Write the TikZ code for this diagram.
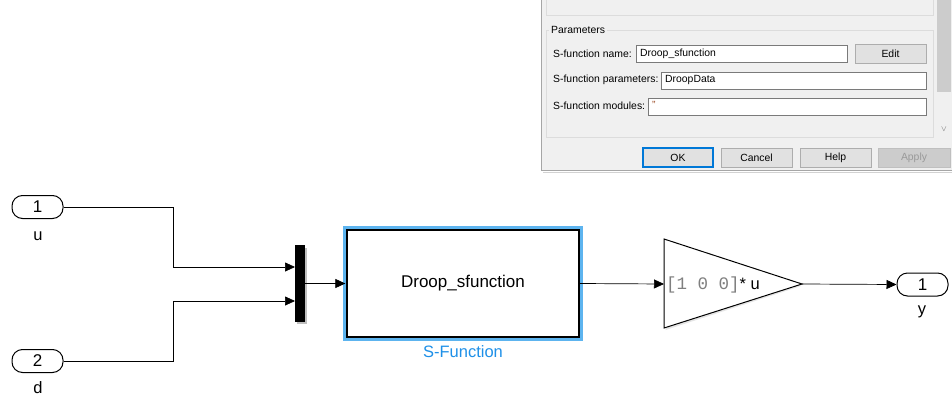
\documentclass[tikz,border=0pt]{standalone}
\usepackage{fontspec}
\setmainfont{Liberation Sans}
\newfontfamily\monofont{Liberation Mono}
\usetikzlibrary{arrows.meta,calc}
\definecolor{dlgbg}{HTML}{F0F0F0}
\definecolor{grpline}{HTML}{DCDCDC}
\definecolor{fieldline}{HTML}{7A7A7A}
\definecolor{btnfill}{HTML}{E1E1E1}
\definecolor{btnline}{HTML}{ADADAD}
\definecolor{okblue}{HTML}{0078D7}
\definecolor{selblue}{HTML}{5DB4EF}
\definecolor{lblblue}{HTML}{1E90E8}
\definecolor{quotered}{HTML}{A0522D}
\definecolor{gaingray}{HTML}{7F7F7F}
\tikzset{
  x=1pt, y=-1pt,
  dlgtext/.style={font=\fontsize{10.4}{12}\selectfont, text=black, inner sep=0pt},
  field/.style={draw=fieldline, fill=white, line width=0.6pt},
  btn/.style={draw=btnline, fill=btnfill, line width=0.8pt, font=\fontsize{10.4}{12}\selectfont, inner sep=0pt},
  port/.style={draw, line width=1pt, rounded corners=10.5pt, minimum width=51pt, minimum height=23pt, inner sep=0pt, font=\fontsize{17}{20}\selectfont},
  lbl/.style={font=\fontsize{16.5}{20}\selectfont, inner sep=0pt},
  sig/.style={line width=0.7pt, -{Triangle[length=10pt,width=9pt]}},
}
\begin{document}
\begin{tikzpicture}
\useasboundingbox (0,0) rectangle (952,396);
\fill[white] (0,0) rectangle (952,396);

% ---------- block parameters dialog ----------
\fill[dlgbg] (541,0) rectangle (952,170);
\draw[gray!70, line width=1.5pt] (541.5,0) -- (541.5,170.5) -- (952,170.5);
\draw[gray!35, line width=1pt] (543,172) -- (952,172);
% lower edge of the group box above
\draw[grpline, line width=0.8pt] (546,0) -- (546,15) -- (933,15) -- (933,0);
% parameters group box
\draw[grpline, line width=0.8pt] (546,30) rectangle (933,137);
\node[dlgtext, fill=dlgbg, inner xsep=2pt, anchor=west] (grp) at (549,30) {Parameters};
% scrollbar
\fill[dlgbg] (936,0) rectangle (952,138);
\fill[black!20] (937,0) rectangle (951,92);
\node[font=\fontsize{8}{9}\selectfont, text=black!60, inner sep=0pt] (scrl) at (944,129) {$\vee$};

% name row
\node[dlgtext, anchor=west] (nmlbl) at (553,54) {S-function name:};
\draw[field] (636,45) rectangle (847,62);
\node[dlgtext, anchor=west] (nmval) at (640,54) {Droop\_sfunction};
\node[btn, minimum width=71pt, minimum height=19pt] (edit) at (890.5,54) {Edit};
% parameters row
\node[dlgtext, anchor=west] (prlbl) at (553,80) {S-function parameters:};
\draw[field] (661,72) rectangle (926,89);
\node[dlgtext, anchor=west] (prval) at (665,80.5) {DroopData};
% modules row
\node[dlgtext, anchor=west] (mdlbl) at (553,106) {S-function modules:};
\draw[field] (648,98) rectangle (926,115);
\node[dlgtext, anchor=west, text=quotered] (mdval) at (652,104.5) {\char"27\char"27};
% dialog buttons
\node[btn, draw=okblue, line width=1.2pt, minimum width=70pt, minimum height=19pt] (ok) at (678,157.5) {OK};
\node[btn, minimum width=71pt, minimum height=19pt] (cancel) at (756.5,157.5) {Cancel};
\node[btn, minimum width=71pt, minimum height=19pt] (help) at (835.5,157.5) {Help};
\node[btn, fill=black!20, draw=black!25, text=black!40, minimum width=72pt, minimum height=19pt] (apply) at (914,157.5) {Apply};

% ---------- model diagram ----------
% inports and outport
\node[port] (in1) at (37.5,207) {1};
\node[lbl] (in1lbl) at (38,236) {u};
\node[port] (in2) at (37.5,361) {2};
\node[lbl] (in2lbl) at (38,388) {d};
\node[port] (out1) at (922.5,284.5) {1};
\node[lbl] (out1lbl) at (922,312) {y};

% mux bar
\fill[black!25] (297,248) rectangle (307,324);
\node[fill=black, minimum width=10pt, minimum height=77pt, inner sep=0pt] (mux) at (300,283.5) {};
\coordinate (muxa) at (295,267);
\coordinate (muxb) at (295,301);

% S-function block
\fill[black!15] (350,233) rectangle (581,340);
\draw[selblue, line width=4pt] (345,228) rectangle (581,339);
\node[draw, fill=white, line width=1.3pt, minimum width=232pt, minimum height=107pt, inner sep=0pt,
      font=\fontsize{17}{20}\selectfont] (sfun) at (463,283.5) {Droop\_sfunction};
\node[lbl, text=lblblue] (sfunlbl) at (463,352) {S-Function};

% gain block
\coordinate (gin) at (664,284);
\coordinate (gout) at (802,284);
\fill[black!10] (665.5,241) -- (801,286) -- (665.5,330) -- cycle;
\draw[line width=1pt, fill=white] (664,239) -- (gout) -- (664,328) -- cycle;
\node[anchor=west, inner sep=0pt] (gaintxt) at (666,285)
  {{\monofont\fontsize{17.5}{20}\selectfont\color{gaingray}[1 0 0]}{\fontsize{16.5}{20}\selectfont* u}};

% signal lines
\draw[sig] (in1.east) -- (173,207) |- (muxa);
\draw[sig] (in2.east) -- (173,361) |- (muxb);
\draw[sig] (mux.east |- sfun.west) -- ($(sfun.west)+(-1,0)$);
\draw[sig] (sfun.east) -- (gin);
\draw[sig] (gout) -- (out1.west);
\end{tikzpicture}
\end{document}
